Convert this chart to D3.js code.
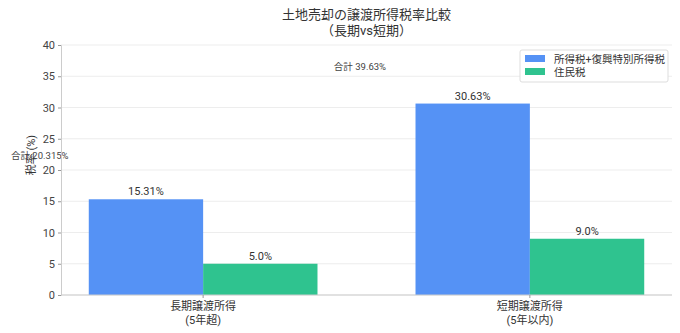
<!DOCTYPE html>
<html>
<head>
<meta charset="utf-8">
<script src="https://cdn.jsdelivr.net/npm/d3@7"></script>
<style>
  body { margin: 0; background: #fff; }
  svg text { font-family: Roboto, "Noto Sans CJK JP", sans-serif; fill: #333; }
</style>
</head>
<body>
<div id="graf"></div>
<script>
// Datos
const categorias = ["長期譲渡所得\n(5年超)", "短期譲渡所得\n(5年以内)"];
const series = ["所得税+復興特別所得税", "住民税"];
const shotoku = [15.315, 30.63];
const jumin = [5.0, 9.0];
const etiquetasShotoku = ["15.31%", "30.63%"];
const etiquetasJumin = ["5.0%", "9.0%"];
const totales = ["合計 20.315%", "合計 39.63%"];
const yTicks = [0, 5, 10, 15, 20, 25, 30, 35, 40];
const colores = ["#5592f5", "#2fc38f"];

// Dimensiones
const anchoTotal = 680, altoTotal = 333;
const margins = { top: 45, right: 8, bottom: 38, left: 61 };
const ancho = anchoTotal - margins.left - margins.right;
const alto = altoTotal - margins.top - margins.bottom;

const svg = d3.select("#graf").append("svg")
    .attr("width", anchoTotal).attr("height", altoTotal);
const g = svg.append("g").attr("transform", `translate(${margins.left}, ${margins.top})`);

// Escaladores (x numérico, barras de 0.35 a cada lado del centro)
const x = d3.scaleLinear().domain([-0.435, 1.435]).range([0, ancho]);
const y = d3.scaleLinear().domain([0, 40]).range([alto, 0]);
const bw = 0.35;

// Grid
g.append("g").selectAll("line").data(yTicks).join("line")
    .attr("x1", 0).attr("x2", ancho)
    .attr("y1", (d) => y(d)).attr("y2", (d) => y(d))
    .attr("stroke", "#e8e8e8").attr("stroke-width", 0.8);

// Barras
const filas = categorias.map((c, i) => ({ i, vals: [shotoku[i], jumin[i]], labs: [etiquetasShotoku[i], etiquetasJumin[i]] }));
const grupos = g.selectAll("g.grupo").data(filas).join("g").attr("class", "grupo");
grupos.each(function (d) {
    const sel = d3.select(this);
    d.vals.forEach((v, k) => {
        const x0 = d.i + (k === 0 ? -bw : 0);
        sel.append("rect")
            .attr("x", x(x0)).attr("y", y(v))
            .attr("width", x(x0 + bw) - x(x0)).attr("height", alto - y(v))
            .attr("fill", colores[k]);
        sel.append("text")
            .attr("x", x(x0 + bw / 2)).attr("y", y(v) - 4)
            .attr("text-anchor", "middle").attr("font-size", 11)
            .text(d.labs[k]);
    });
});

// Totales
const totPos = [{ x: -0.5, y: 22.35 }, { x: 0.48, y: 36.55 }];
g.selectAll("text.total").data(totales).join("text").attr("class", "total")
    .attr("x", (d, i) => x(totPos[i].x)).attr("y", (d, i) => y(totPos[i].y) + 3.5)
    .attr("text-anchor", "middle").attr("font-size", 9.5).style("fill", "#444")
    .text((d) => d);

// Ejes
const yAxis = d3.axisLeft(y).tickValues(yTicks).tickSize(3).tickPadding(3);
const yAxisGroup = g.append("g").call(yAxis);
yAxisGroup.select(".domain").attr("stroke", "#ccc");
yAxisGroup.selectAll(".tick line").attr("stroke", "#999");
yAxisGroup.selectAll(".tick text").attr("font-size", 11).style("fill", "#444");

const xAxisGroup = g.append("g").attr("transform", `translate(0, ${alto})`);
xAxisGroup.append("line").attr("x1", 0).attr("x2", ancho).attr("stroke", "#ccc");
categorias.forEach((c, i) => {
    xAxisGroup.append("line").attr("x1", x(i)).attr("x2", x(i)).attr("y1", 0).attr("y2", 3).attr("stroke", "#999");
    const t = xAxisGroup.append("text").attr("text-anchor", "middle").attr("font-size", 11);
    c.split("\n").forEach((linea, j) => {
        t.append("tspan").attr("x", x(i)).attr("y", 15 + j * 14).text(linea);
    });
});

// Etiqueta eje Y
svg.append("text")
    .attr("transform", `translate(35, ${margins.top + alto / 2 - 15}) rotate(-90)`)
    .attr("text-anchor", "middle").attr("font-size", 11)
    .text("税率 (%)");

// Titulo
const cx = margins.left + ancho / 2;
svg.append("text").attr("x", cx).attr("y", 19).attr("text-anchor", "middle").attr("font-size", 13).text("土地売却の譲渡所得税率比較");
svg.append("text").attr("x", cx).attr("y", 35).attr("text-anchor", "middle").attr("font-size", 13).text("（長期vs短期）");

// Leyenda
const ley = svg.append("g").attr("transform", "translate(520, 50)");
ley.append("rect").attr("width", 148).attr("height", 32).attr("rx", 2)
    .attr("fill", "#fff").attr("stroke", "#ddd");
series.forEach((s, k) => {
    ley.append("rect").attr("x", 5).attr("y", 5 + k * 13).attr("width", 20).attr("height", 7).attr("fill", colores[k]);
    ley.append("text").attr("x", 34).attr("y", 12.5 + k * 13).attr("font-size", 10.5).text(s);
});
</script>
</body>
</html>
